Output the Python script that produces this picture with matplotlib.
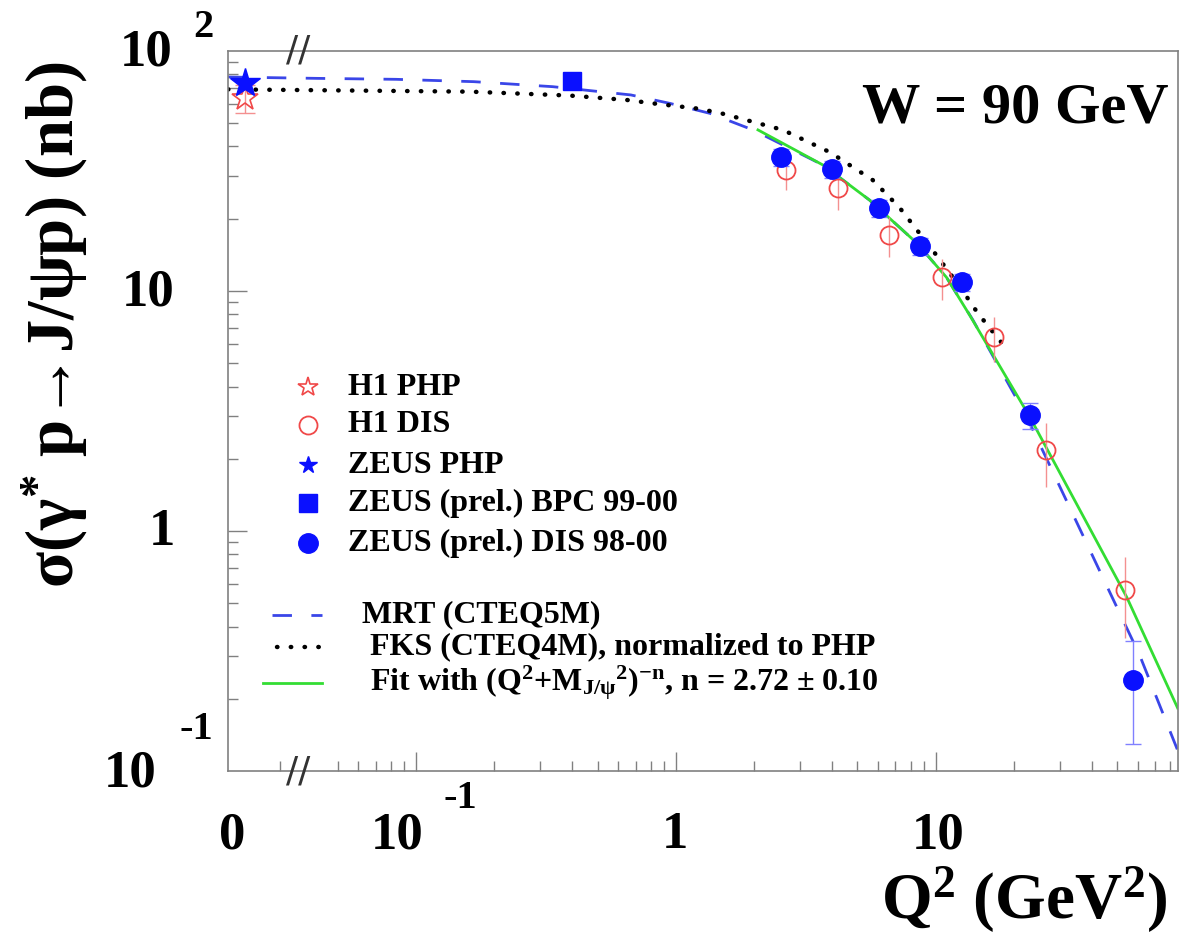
import numpy as np
import matplotlib
matplotlib.use('Agg')
import matplotlib.pyplot as plt
from matplotlib.ticker import FixedLocator, NullFormatter

# bold Times-like text everywhere, also inside $...$
plt.rcParams['font.family'] = ['Liberation Serif', 'DejaVu Serif']
plt.rcParams['font.weight'] = 'bold'
plt.rcParams['mathtext.fontset'] = 'custom'
plt.rcParams['mathtext.rm'] = 'Liberation Serif:bold'
plt.rcParams['mathtext.it'] = 'Liberation Serif:bold'
plt.rcParams['mathtext.bf'] = 'Liberation Serif:bold'

# Q2 = 0 (photoproduction) points sit at this spot of the log axis
q2_zero = 0.022

# photoproduction
h1_php_sig = [63.7]
h1_php_err = [8.5]
zeus_php_sig = [73.6]
zeus_php_err = [4.0]

# ZEUS BPC 99-00
zeus_bpc_q2 = [0.40]
zeus_bpc_sig = [75.0]
zeus_bpc_err = [5.5]

# ZEUS DIS 98-00
zeus_dis_q2 = [2.53, 3.98, 6.04, 8.68, 12.6, 23.0, 57.3]
zeus_dis_sig = [36.1, 32.2, 22.2, 15.4, 10.9, 3.04, 0.239]
zeus_dis_err = [3.0, 2.5, 1.8, 1.3, 0.9, 0.37, 0.11]

# H1 DIS
h1_dis_q2 = [2.65, 4.2, 6.59, 10.6, 16.7, 26.5, 53.3]
h1_dis_sig = [31.9, 26.8, 17.1, 11.4, 6.43, 2.18, 0.568]
h1_dis_err = [5.5, 5.0, 3.2, 2.2, 1.36, 0.65, 0.21]

# MRT (CTEQ5M)
mrt_q2 = [0.0189, 0.0416, 0.0837, 0.167, 0.336, 0.671, 0.948, 1.35, 1.98,
          3.68, 5.57, 8.45, 11.0, 13.9, 22.4, 32.7, 46.7, 60.9, 85.3]
mrt_sig = [77.9, 76.9, 76.2, 74.5, 71.0, 65.6, 60.5, 55.0, 46.9,
           33.5, 23.9, 15.85, 11.4, 7.57, 2.99, 1.26, 0.557, 0.304, 0.122]

# FKS (CTEQ4M), normalized to PHP
fks_q2 = [0.0189, 0.161, 0.391, 0.648, 0.816, 1.205, 1.476, 2.58, 3.91,
          5.72, 7.27, 9.73, 12.4, 14.5, 18.1]
fks_sig = [69.2, 67.7, 65.2, 62.5, 60.5, 57.6, 55.2, 46.9, 37.9,
           29.0, 22.2, 14.8, 10.4, 8.10, 6.01]

# fit (Q2 + M^2)^-n
fit_q2 = [2.07, 3.68, 5.57, 8.45, 11.0, 13.5, 23.0, 54.3, 85.3]
fit_sig = [46.9, 33.5, 23.9, 15.85, 11.4, 7.94, 2.99, 0.531, 0.183]

blue = '#0a10ff'
red = '#f04848'
dash_blue = '#3a46e8'
green = '#33dd33'
gray = '#808080'

fig = plt.figure(figsize=(11.8, 9.39), dpi=100)
ax = fig.add_axes([0.1932, 0.1789, 0.8048, 0.7668])
ax.set_xscale('log')
ax.set_yscale('log')
ax.set_xlim(0.0189, 85.3)
ax.set_ylim(0.1, 100)

# theory curves
ax.plot(mrt_q2, mrt_sig, color=dash_blue, lw=2, ls=(0, (7, 7)), zorder=2)
ax.plot(fks_q2, fks_sig, color='black', lw=3.2, ls=(0, (0.1, 3)),
        dash_capstyle='round', zorder=2)
ax.plot(fit_q2, fit_sig, color=green, lw=2, zorder=2)

# data
ax.errorbar([q2_zero], h1_php_sig, yerr=h1_php_err, fmt='none', ecolor='#f49090',
            elinewidth=1, capsize=7, zorder=3)
ax.plot([q2_zero], h1_php_sig, ls='none', marker='*', ms=19, mfc='none',
        mec=red, mew=1.2, zorder=4)
ax.errorbar([q2_zero], zeus_php_sig, yerr=zeus_php_err, fmt='none', ecolor='#8080ff',
            elinewidth=1, zorder=3)
ax.plot([q2_zero], zeus_php_sig, ls='none', marker='*', ms=22, color=blue, zorder=5)

ax.errorbar(zeus_bpc_q2, zeus_bpc_sig, yerr=zeus_bpc_err, fmt='none', ecolor='#8080ff',
            elinewidth=1, capsize=5, zorder=3)
ax.plot(zeus_bpc_q2, zeus_bpc_sig, ls='none', marker='s', ms=13, color=blue, zorder=5)

ax.errorbar(h1_dis_q2, h1_dis_sig, yerr=h1_dis_err, fmt='none', ecolor='#f49090',
            elinewidth=1, zorder=3)
ax.plot(h1_dis_q2, h1_dis_sig, ls='none', marker='o', ms=13, mfc='none',
        mec=red, mew=1.3, zorder=4)
ax.errorbar(zeus_dis_q2, zeus_dis_sig, yerr=zeus_dis_err, fmt='none', ecolor='#8080ff',
            elinewidth=1, capsize=6, zorder=3)
ax.plot(zeus_dis_q2, zeus_dis_sig, ls='none', marker='o', ms=14, color=blue, zorder=5)

# frame and ticks
for sp in ax.spines.values():
    sp.set_color(gray)
    sp.set_linewidth(1.2)
ax.xaxis.set_major_locator(FixedLocator([0.1, 1, 10]))
x_minor = [0.03, 0.05, 0.06, 0.07, 0.08, 0.09] + \
    [k * 0.1 for k in range(2, 10)] + list(range(2, 10)) + [k * 10 for k in range(2, 9)]
ax.xaxis.set_minor_locator(FixedLocator(x_minor))
ax.yaxis.set_major_locator(FixedLocator([1, 10]))
y_minor = [k * d for d in (0.1, 1, 10) for k in range(2, 10)]
ax.yaxis.set_minor_locator(FixedLocator(y_minor))
for axis in (ax.xaxis, ax.yaxis):
    axis.set_major_formatter(NullFormatter())
    axis.set_minor_formatter(NullFormatter())
ax.tick_params(which='both', direction='in', colors=gray, width=1,
               top=False, right=False)
ax.tick_params(which='major', length=14)
ax.tick_params(which='minor', length=7)

# tick labels, ROOT style
tick_fs = 38
exp_fs = 29
xt = ax.get_xaxis_transform()
yt = ax.get_yaxis_transform()
for xv, txt, dx in [(q2_zero, '0', -13), (0.1, '10', -19), (1, '1', -1), (10, '10', 2)]:
    ax.annotate(txt, xy=(xv, 0), xycoords=xt, xytext=(dx, -64), textcoords='offset pixels',
                ha='center', va='center', fontsize=tick_fs, annotation_clip=False)
ax.annotate('-1', xy=(0.1, 0), xycoords=xt, xytext=(44, -27), textcoords='offset pixels',
            ha='center', va='center', fontsize=exp_fs, annotation_clip=False)

for yv, txt, dx, dy in [(100, '10', -55, -2), (10, '10', -53, -2), (1, '1', -53, -1),
                        (0.1, '10', -71, -2)]:
    ax.annotate(txt, xy=(0, yv), xycoords=yt, xytext=(dx, dy), textcoords='offset pixels',
                ha='right', va='center', fontsize=tick_fs, annotation_clip=False)
ax.annotate('2', xy=(0, 100), xycoords=yt, xytext=(-25, 23), textcoords='offset pixels',
            ha='center', va='center', fontsize=exp_fs, annotation_clip=False)
ax.annotate('-1', xy=(0, 0.1), xycoords=yt, xytext=(-32, 42), textcoords='offset pixels',
            ha='center', va='center', fontsize=exp_fs, annotation_clip=False)

# axis break marks
for yb in (0, 1):
    ax.text(0.0352, yb, '//', transform=xt, ha='center', va='center', fontsize=26,
            family='DejaVu Sans', fontweight='normal', color='#333333', clip_on=False)

# axis titles
fig.text(55 / 1180, 1 - 325 / 939, r'σ(γ$^{*}$ p→J/ψp) (nb)', rotation=90,
         ha='center', va='center', fontsize=48)
fig.text(1167 / 1180, 1 - 918 / 939, r'Q$^{2}$ (GeV$^{2}$)', ha='right',
         va='baseline', fontsize=47)
ax.text(0.668, 0.9, 'W = 90 GeV', transform=ax.transAxes, ha='left',
        va='baseline', fontsize=42)

# legend
leg_fs = 23
mk_x = 0.0842
marker_rows = [
    (0.5333, dict(marker='*', ms=15, mfc='none', mec=red, mew=1.2), 'H1 PHP'),
    (0.4806, dict(marker='o', ms=13, mfc='none', mec=red, mew=1.3), 'H1 DIS'),
    (0.4250, dict(marker='*', ms=13, color=blue), 'ZEUS PHP'),
    (0.3722, dict(marker='s', ms=13, color=blue), 'ZEUS (prel.) BPC 99-00'),
    (0.3167, dict(marker='o', ms=14, color=blue), 'ZEUS (prel.) DIS 98-00'),
]
for yy, style, label in marker_rows:
    ax.plot([mk_x], [yy], transform=ax.transAxes, ls='none', clip_on=False, **style)
    ax.text(0.1263, yy, label, transform=ax.transAxes, ha='left', va='center',
            fontsize=leg_fs)

line_rows = [
    (0.2167, (0.0463, 0.0989), dict(color=dash_blue, lw=2, ls=(0, (7, 7))),
     'MRT (CTEQ5M)', 0.141),
    (0.1722, (0.0516, 0.0968), dict(color='black', lw=3.2, ls=(0, (0.1, 3)),
                                    dash_capstyle='round'),
     'FKS (CTEQ4M), normalized to PHP', 0.1495),
    (0.1222, (0.0368, 0.0989), dict(color=green, lw=2),
     r'Fit with (Q$^{2}$+M$_{J/ψ}$$^{2}$)$^{-n}$, n = 2.72 ± 0.10', 0.1495),
]
for yy, (x0, x1), style, label, tx in line_rows:
    ax.plot([x0, x1], [yy, yy], transform=ax.transAxes, **style)
    ax.text(tx, yy, label, transform=ax.transAxes, ha='left', va='center',
            fontsize=leg_fs)

fig.savefig('out.png', dpi=100)
